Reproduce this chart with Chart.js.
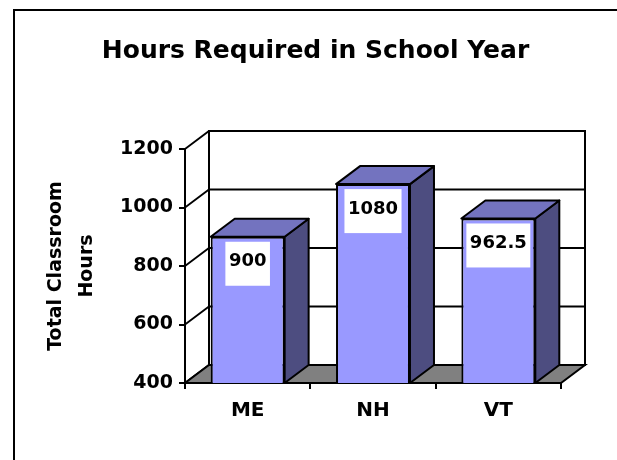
<!DOCTYPE html>
<html>
<head>
<meta charset="utf-8">
<script src="https://cdn.jsdelivr.net/npm/chart.js@4"></script>
<style>
  body { margin: 0; background: #fff; }
  #wrap { width: 617px; height: 460px; position: relative; }
</style>
</head>
<body>
<div id="wrap"><canvas id="chart"></canvas></div>
<script>
const categories = ['ME', 'NH', 'VT'];
const hours = [900, 1080, 962.5];
const yMin = 400, yMax = 1200, yStep = 200;
const titleText = 'Hours Required in School Year';
const yTitle = ['Total Classroom', 'Hours'];

// depth of the fake 3d box
const DX = 24, DY = -18;
const FONT = '"DejaVu Sans", sans-serif';

const box3d = {
  id: 'box3d',
  beforeDraw(chart) {
    const ctx = chart.ctx;
    ctx.save();
    ctx.fillStyle = '#fff';
    ctx.fillRect(0, 0, chart.width, chart.height);
    ctx.strokeStyle = '#000';
    ctx.lineWidth = 2;
    ctx.strokeRect(14, 10, chart.width + 20, chart.height + 20);
    ctx.restore();
  },
  beforeDatasetsDraw(chart) {
    const { ctx, chartArea: a, scales: { y } } = chart;
    const L = a.left, R = a.right, T = a.top, B = a.bottom;
    ctx.save();
    ctx.strokeStyle = '#000';
    ctx.lineWidth = 2;
    // back wall
    ctx.fillStyle = '#fff';
    ctx.beginPath();
    ctx.rect(L + DX, T + DY, R - L, B - T);
    ctx.fill();
    ctx.stroke();
    // grid on side wall and back wall
    ctx.lineWidth = 1.8;
    y.ticks.forEach(t => {
      const py = y.getPixelForValue(t.value);
      ctx.beginPath();
      ctx.moveTo(L, py);
      ctx.lineTo(L + DX, py + DY);
      ctx.lineTo(R + DX, py + DY);
      ctx.stroke();
    });
    // floor
    ctx.lineWidth = 2;
    ctx.fillStyle = '#808080';
    ctx.beginPath();
    ctx.moveTo(L, B);
    ctx.lineTo(R, B);
    ctx.lineTo(R + DX, B + DY);
    ctx.lineTo(L + DX, B + DY);
    ctx.closePath();
    ctx.fill();
    ctx.stroke();
    ctx.restore();
  },
  afterDatasetsDraw(chart) {
    const ctx = chart.ctx;
    const bars = chart.getDatasetMeta(0).data;
    ctx.save();
    ctx.strokeStyle = '#000';
    ctx.lineWidth = 2;
    ctx.lineJoin = 'round';
    bars.forEach((bar, i) => {
      const l = bar.x - bar.width / 2, r = bar.x + bar.width / 2;
      const t = bar.y, b = Math.min(bar.base, chart.chartArea.bottom);
      // side
      ctx.fillStyle = '#4d4d80';
      ctx.beginPath();
      ctx.moveTo(r, t);
      ctx.lineTo(r + DX, t + DY);
      ctx.lineTo(r + DX, b + DY);
      ctx.lineTo(r, b);
      ctx.closePath();
      ctx.fill();
      ctx.stroke();
      // top
      ctx.fillStyle = '#7373bf';
      ctx.beginPath();
      ctx.moveTo(l, t);
      ctx.lineTo(l + DX, t + DY);
      ctx.lineTo(r + DX, t + DY);
      ctx.lineTo(r, t);
      ctx.closePath();
      ctx.fill();
      ctx.stroke();

      // value label in a white box
      const txt = String(hours[i]);
      ctx.font = 'bold 18px ' + FONT;
      const w = ctx.measureText(txt).width + 7;
      const h = 44;
      ctx.fillStyle = '#fff';
      ctx.fillRect(bar.x - w / 2, t + 5, w, h);
      ctx.fillStyle = '#000';
      ctx.textAlign = 'center';
      ctx.textBaseline = 'middle';
      ctx.fillText(txt, bar.x, t + 5 + h / 2 - 2);
    });
    ctx.restore();
  }
};

new Chart(document.getElementById('chart'), {
  type: 'bar',
  data: {
    labels: categories,
    datasets: [{
      data: hours,
      backgroundColor: '#9999ff',
      borderColor: '#000',
      borderWidth: 2,
      categoryPercentage: 1,
      barPercentage: 0.59
    }]
  },
  options: {
    responsive: true,
    maintainAspectRatio: false,
    animation: false,
    layout: { padding: { left: 70, right: 56, top: 0, bottom: 0 } },
    plugins: {
      legend: { display: false },
      tooltip: { enabled: false },
      title: {
        display: true,
        text: titleText,
        color: '#000',
        font: { family: FONT, size: 25, weight: 'bold', lineHeight: 1.2 },
        padding: { top: 36, bottom: 83 }
      }
    },
    scales: {
      x: {
        afterFit: s => { s.height = 77; },
        grid: { drawOnChartArea: false, drawTicks: true, tickLength: 6, color: '#000', lineWidth: 2 },
        border: { display: true, color: '#000', width: 2 },
        ticks: { color: '#000', padding: 10, font: { family: FONT, size: 20, weight: 'bold' } }
      },
      y: {
        min: yMin,
        max: yMax,
        afterFit: s => { s.width = 115; },
        grid: { drawOnChartArea: false, drawTicks: true, tickLength: 6, color: '#000', lineWidth: 2 },
        border: { display: true, color: '#000', width: 2 },
        ticks: {
          stepSize: yStep,
          color: '#000',
          padding: 6,
          font: { family: FONT, size: 19, weight: 'bold' },
          callback: v => String(v)
        },
        title: {
          display: true,
          text: yTitle,
          color: '#000',
          padding: { top: -29.5 },
          font: { family: FONT, size: 19, weight: 'bold', lineHeight: 1.63 }
        }
      }
    }
  },
  plugins: [box3d]
});
</script>
</body>
</html>
